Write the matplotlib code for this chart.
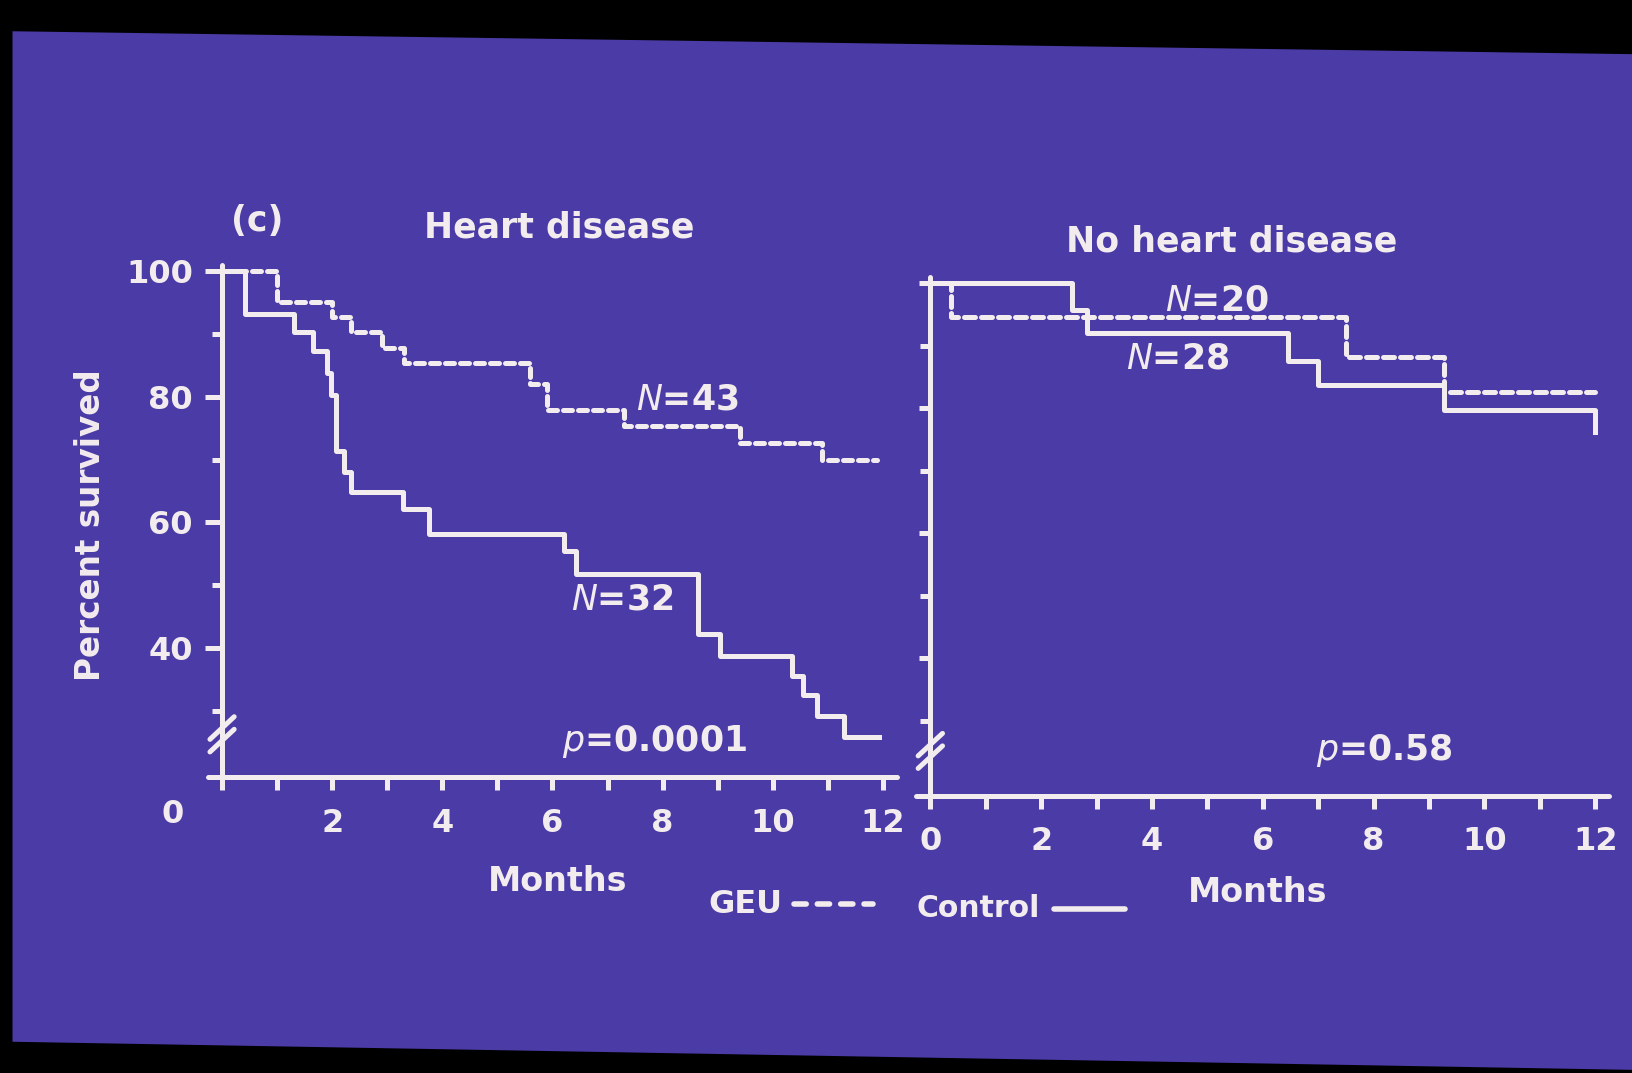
import matplotlib.pyplot as plt
from matplotlib.lines import Line2D
from matplotlib.patches import Polygon
import matplotlib.ticker as mticker

# Heart disease panel (months, percent survived)
hd_geu_t = [0, 1.0, 2.0, 2.35, 2.9, 3.3, 5.6, 5.9, 7.3, 9.4, 10.9, 11.9]
hd_geu_s = [100, 95.0, 92.6, 90.3, 87.7, 85.3, 82.0, 77.9, 75.3, 72.6, 70.0, 70.0]
hd_ctl_t = [0, 0.42, 1.3, 1.66, 1.9, 1.98, 2.06, 2.22, 2.35, 3.28, 3.75, 6.2, 6.42,
            8.65, 9.05, 10.35, 10.55, 10.8, 11.3, 11.93]
hd_ctl_s = [100, 93.1, 90.3, 87.3, 83.8, 80.2, 71.3, 68.0, 64.9, 62.2, 58.2, 55.5, 51.8,
            42.3, 38.8, 35.6, 32.6, 29.2, 25.8, 25.8]

# No heart disease panel
nhd_geu_t = [0, 0.38, 7.5, 9.27, 12.0]
nhd_geu_s = [100, 94.6, 88.2, 82.6, 82.6]
nhd_ctl_t = [0, 2.56, 2.82, 6.45, 7.0, 9.27, 12.0]
nhd_ctl_s = [100, 95.8, 92.0, 87.6, 83.8, 79.7, 76.2]

month_ticks = list(range(0, 13))
month_labels = ["", "", "2", "", "4", "", "6", "", "8", "", "10", "", "12"]
month_labels_r = ["0", "", "2", "", "4", "", "6", "", "8", "", "10", "", "12"]

BG = "#4a3ba7"
FG = "#f3ecee"
LW = 3.6
W, H = 1568, 1030  # reference pixel frame used for layout


def box(x0, x1, y0, y1):
    return [x0 / W, 1 - y1 / H, (x1 - x0) / W, (y1 - y0) / H]


fig = plt.figure(figsize=(16.33, 10.73), dpi=100, facecolor="black")
plt.rcParams['font.family'] = ['DejaVu Sans']
fnt = dict(color=FG, fontweight="bold")

# slide area (photo is slightly skewed)
slide = Polygon([(12 / W, 1 - 30 / H), (1.0, 1 - 52 / H), (1.0, 1 - 1027 / H), (12 / W, 1 - 1000 / H)],
                closed=True, transform=fig.transFigure, facecolor=BG, edgecolor="none", zorder=-5)
fig.patches.append(slide)


def setup(ax, ylo, xaxis_y, ylab_major):
    ax.set_facecolor("none")
    ax.set_xlim(-0.25, 12.25)
    ax.set_ylim(ylo, 101)
    for s in ["top", "right"]:
        ax.spines[s].set_visible(False)
    ax.spines["left"].set_position(("data", 0))
    ax.spines["bottom"].set_position(("data", xaxis_y))
    for s in ["left", "bottom"]:
        ax.spines[s].set_color(FG)
        ax.spines[s].set_linewidth(LW)
        ax.spines[s].set_capstyle("round")
    ax.set_xticks(month_ticks)
    ax.yaxis.set_major_locator(mticker.FixedLocator([40, 60, 80, 100]))
    ax.yaxis.set_minor_locator(mticker.FixedLocator([30, 50, 70, 90]))
    ax.tick_params(axis="x", direction="out", length=9, width=LW, color=FG,
                   labelcolor=FG, labelsize=23, pad=13)
    ax.tick_params(axis="y", which="major", direction="out", length=12 if ylab_major else 8,
                   width=LW, color=FG, labelcolor=FG, labelsize=23, pad=9)
    ax.tick_params(axis="y", which="minor", direction="out", length=7, width=LW, color=FG)
    for lab in ax.get_xticklabels() + ax.get_yticklabels():
        lab.set_fontweight("bold")


def breakmark(ax, y):
    for d in (-1.0, 1.0):
        ax.plot([-0.22, 0.22], [y + d - 1.8, y + d + 1.8], color=FG, lw=LW,
                solid_capstyle="round", clip_on=False)


# left panel
ax1 = fig.add_axes(box(200, 861, 254, 755))
setup(ax1, 18, 19.5, True)
ax1.set_xticklabels(month_labels)
ax1.set_yticklabels(["40", "60", "80", "100"])
ax1.step(hd_geu_t, hd_geu_s, where="post", color=FG, lw=LW, linestyle=(0, (1.8, 1.2)),
         dash_capstyle="round", clip_on=False)
ax1.step(hd_ctl_t, hd_ctl_s, where="post", color=FG, lw=LW, clip_on=False)
breakmark(ax1, 26.3)
ax1.text(8.45, 79.6, "$\\mathit{N}$=43", ha="center", va="center", fontsize=25, **fnt)
ax1.text(7.26, 47.8, "$\\mathit{N}$=32", ha="center", va="center", fontsize=25, **fnt)
ax1.text(7.85, 25.1, "$\\mathit{p}$=0.0001", ha="center", va="center", fontsize=25, **fnt)
ax1.set_ylabel("Percent survived", fontsize=23.5, labelpad=14, **fnt)

# right panel
ax2 = fig.add_axes(box(880, 1545, 266, 773))
setup(ax2, 16.5, 18, False)
ax2.set_xticklabels(month_labels_r)
ax2.set_yticklabels([])
ax2.step(nhd_geu_t, nhd_geu_s, where="post", color=FG, lw=LW, linestyle=(0, (2.2, 1.2)),
         dash_capstyle="round", clip_on=False)
ax2.step(nhd_ctl_t, nhd_ctl_s, where="post", color=FG, lw=LW, clip_on=False)
breakmark(ax2, 25.2)
ax2.text(5.18, 97.3, "$\\mathit{N}$=20", ha="center", va="center", fontsize=25, **fnt)
ax2.text(4.46, 88.0, "$\\mathit{N}$=28", ha="center", va="center", fontsize=25, **fnt)
ax2.text(8.2, 25.3, "$\\mathit{p}$=0.58", ha="center", va="center", fontsize=25, **fnt)

# titles and figure texts
def ftext(x, y, s, size=22, ha="center"):
    fig.text(x / W, 1 - y / H, s, ha=ha, va="center", fontsize=size, **fnt)


ftext(247, 212, "(c)", 25)
ftext(537, 218, "Heart disease", 25)
ftext(1183, 232, "No heart disease", 25)
ftext(166, 782, "0", 23)
ftext(535, 846, "Months", 24)
ftext(1208, 857, "Months", 24)
ftext(680, 868, "GEU", 23, ha="left")
ftext(880, 872, "Control", 21.5, ha="left")
fig.lines.append(Line2D([762 / W, 838 / W], [1 - 868 / H, 1 - 868 / H], transform=fig.transFigure,
                        color=FG, lw=4, linestyle=(0, (2.2, 2.0)), dash_capstyle="round"))
fig.lines.append(Line2D([1012 / W, 1080 / W], [1 - 873 / H, 1 - 873 / H], transform=fig.transFigure,
                        color=FG, lw=4, solid_capstyle="round"))

fig.savefig("out.png", dpi=100, facecolor="black")
